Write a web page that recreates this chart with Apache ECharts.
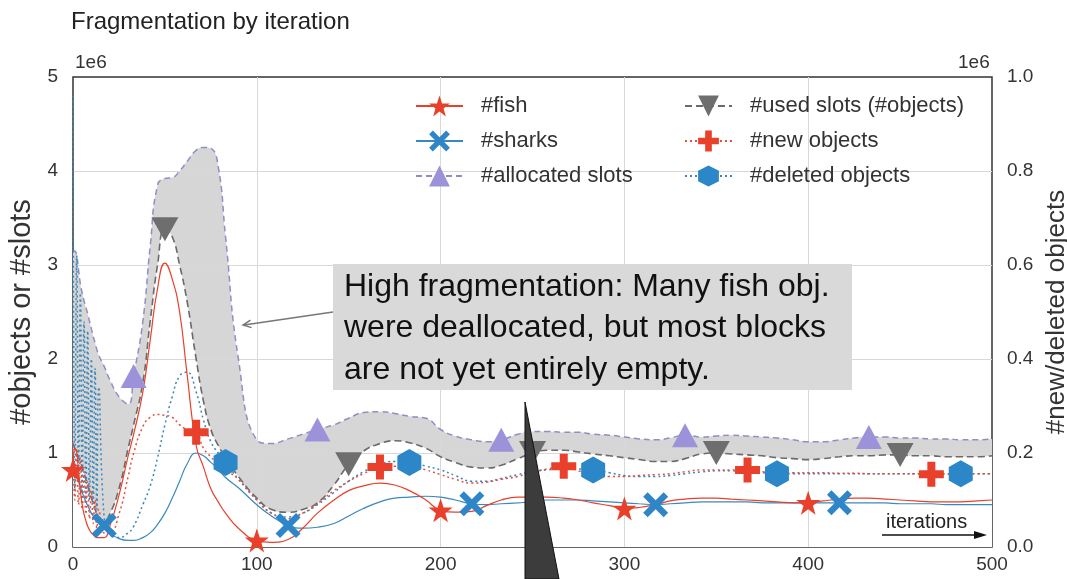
<!DOCTYPE html>
<html>
<head>
<meta charset="utf-8">
<title>Fragmentation by iteration</title>
<script src="https://cdn.jsdelivr.net/npm/echarts@6/dist/echarts.min.js"></script>
<style>
  html, body { margin: 0; padding: 0; background: #fff; }
  #chart { width: 1067px; height: 579px; }
</style>
</head>
<body>
<div id="chart"></div>
<script>
// iterations (x), same grid for every series
const iters = [0, 1, 2, 3, 4, 5, 6, 7, 8, 9, 10, 11, 12, 13, 14,
  17, 20, 25, 30, 33, 38, 42, 46, 50, 54, 58, 62, 67, 71, 75, 79, 83, 90,
  100, 108, 117, 125, 133, 142, 150, 158, 167, 175, 183, 192,
  200, 208, 217, 225, 233, 242, 250, 258, 267, 275, 283, 292,
  300, 308, 317, 325, 333, 342, 350, 358, 367, 375, 383, 392,
  400, 408, 417, 425, 433, 442, 450, 458, 467, 475, 483, 492,
  500];

// left axis (x 1e6)
const fish = [0.82, 1.05, 1.0, 0.8, 0.6, 0.45, 0.35, 0.28, 0.22, 0.18, 0.15, 0.13, 0.11, 0.1, 0.1,
  0.1, 0.22, 0.55, 0.97, 1.2, 1.65, 2.2, 2.75, 3.02, 2.85, 2.5, 1.85, 1.08, 0.85, 0.62, 0.48, 0.36, 0.2,
  0.07, 0.05, 0.08, 0.2, 0.36, 0.5, 0.6, 0.65, 0.68, 0.66, 0.6, 0.5,
  0.39, 0.37, 0.38, 0.44, 0.5, 0.53, 0.53, 0.53, 0.52, 0.5, 0.47, 0.44,
  0.41, 0.42, 0.45, 0.49, 0.51, 0.52, 0.52, 0.51, 0.5, 0.49, 0.48, 0.47,
  0.47, 0.49, 0.51, 0.52, 0.52, 0.51, 0.5, 0.49, 0.48, 0.48, 0.48, 0.49,
  0.5];
const sharks = [0.9, 0.82, 0.76, 0.7, 0.64, 0.58, 0.53, 0.48, 0.44, 0.4, 0.36, 0.33, 0.3, 0.28, 0.26,
  0.23, 0.15, 0.09, 0.07, 0.07, 0.1, 0.15, 0.24, 0.36, 0.52, 0.7, 0.88, 1.0, 0.97, 0.9, 0.83, 0.74, 0.63,
  0.45, 0.33, 0.23, 0.2, 0.21, 0.25, 0.33, 0.41, 0.48, 0.52, 0.53, 0.54,
  0.53, 0.5, 0.46, 0.45, 0.46, 0.47, 0.48, 0.5, 0.5, 0.5, 0.49, 0.48,
  0.47, 0.46, 0.45, 0.46, 0.47, 0.48, 0.48, 0.48, 0.48, 0.47, 0.47, 0.47,
  0.47, 0.47, 0.47, 0.47, 0.47, 0.47, 0.46, 0.46, 0.46, 0.45, 0.45, 0.45,
  0.45];
const allocSlots = [3.15, 3.15, 3.1, 2.95, 2.8, 2.7, 2.62, 2.55, 2.48, 2.4, 2.32, 2.24, 2.17, 2.1, 2.04,
  1.92, 1.78, 1.6, 1.52, 1.82, 2.4, 3.2, 3.85, 3.92, 3.93, 4.0, 4.1, 4.22, 4.25, 4.24, 4.05, 3.3, 2.0,
  1.14, 1.1, 1.15, 1.2, 1.25, 1.3, 1.37, 1.43, 1.44, 1.42, 1.39, 1.37,
  1.25, 1.18, 1.14, 1.12, 1.14, 1.2, 1.23, 1.23, 1.22, 1.22, 1.2, 1.19,
  1.17, 1.15, 1.14, 1.16, 1.19, 1.17, 1.18, 1.19, 1.18, 1.17, 1.16, 1.14,
  1.12, 1.12, 1.14, 1.16, 1.17, 1.17, 1.16, 1.16, 1.15, 1.15, 1.14, 1.14,
  1.15];
const usedSlots = [1.1, 1.05, 1.0, 0.95, 0.9, 0.85, 0.78, 0.72, 0.65, 0.58, 0.52, 0.46, 0.4, 0.35, 0.31,
  0.28, 0.35, 0.62, 1.05, 1.3, 1.75, 2.4, 3.0, 3.38, 3.3, 3.0, 2.62, 2.0, 1.55, 1.25, 1.08, 0.95, 0.75,
  0.52, 0.4, 0.37, 0.4, 0.47, 0.66, 0.88, 1.02, 1.1, 1.13, 1.11, 1.05,
  0.96, 0.9, 0.85, 0.84, 0.87, 0.94, 1.0, 1.03, 1.03, 1.01, 0.99, 0.97,
  0.95, 0.93, 0.91, 0.91, 0.94, 0.99, 1.0, 0.99, 0.98, 0.97, 0.95, 0.94,
  0.93, 0.94, 0.96, 0.97, 0.97, 0.98, 0.98, 0.97, 0.97, 0.96, 0.96, 0.96,
  0.97];

// right axis (x 1e6)
const newObjects = [0.22, 0.1, 0.21, 0.09, 0.19, 0.08, 0.16, 0.07, 0.14, 0.06, 0.12, 0.05, 0.1, 0.04, 0.08,
  0.03, 0.03, 0.07, 0.15, 0.2, 0.256, 0.276, 0.282, 0.28, 0.276, 0.26, 0.25, 0.244, 0.21, 0.192, 0.176, 0.164, 0.144,
  0.1, 0.072, 0.06, 0.072, 0.092, 0.12, 0.14, 0.156, 0.17, 0.172, 0.172, 0.164,
  0.154, 0.144, 0.136, 0.138, 0.144, 0.15, 0.16, 0.166, 0.172, 0.162, 0.154, 0.15,
  0.15, 0.152, 0.154, 0.156, 0.16, 0.164, 0.164, 0.164, 0.164, 0.16, 0.158, 0.158,
  0.158, 0.158, 0.157, 0.157, 0.156, 0.156, 0.156, 0.156, 0.155, 0.155, 0.156, 0.156,
  0.156];
const deletedObjects = [0.96, 0.12, 0.62, 0.14, 0.54, 0.12, 0.48, 0.1, 0.46, 0.1, 0.4, 0.09, 0.38, 0.08, 0.34,
  0.06, 0.03, 0.02, 0.03, 0.044, 0.09, 0.13, 0.19, 0.26, 0.32, 0.364, 0.372, 0.33, 0.27, 0.224, 0.2, 0.18, 0.144,
  0.1, 0.072, 0.064, 0.072, 0.09, 0.116, 0.14, 0.16, 0.176, 0.182, 0.18, 0.172,
  0.164, 0.152, 0.14, 0.14, 0.146, 0.154, 0.16, 0.164, 0.166, 0.166, 0.164, 0.158,
  0.152, 0.15, 0.15, 0.152, 0.156, 0.16, 0.162, 0.162, 0.16, 0.158, 0.156, 0.156,
  0.156, 0.156, 0.156, 0.156, 0.156, 0.156, 0.156, 0.156, 0.156, 0.156, 0.156, 0.156,
  0.156];

const xTicks = [0, 100, 200, 300, 400, 500];
const leftTicks = [0, 1, 2, 3, 4, 5];
const rightTicks = [0, 0.2, 0.4, 0.6, 0.8, 1.0];

// markers every 100 iterations, each series shifted a bit
const markOffset = { fish: 0, sharks: 17, alloc: 33, used: 50, newObj: 67, delObj: 83 };

const STAR = 'path://M50,0L61.8,35.1L98.1,35.1L68.8,56.8L79.4,91.9L50,70.5L20.6,91.9L31.2,56.8L1.9,35.1L38.2,35.1Z';
const XMARK = 'path://M18,0L50,32L82,0L100,18L68,50L100,82L82,100L50,68L18,100L0,82L32,50L0,18Z';
const PLUS = 'path://M34,0H66V34H100V66H66V100H34V66H0V34H34Z';
const HEX = 'path://M50,0L93.3,25L93.3,75L50,100L6.7,75L6.7,25Z';
const TRI_UP = 'path://M50,0L100,86.6L0,86.6Z';
const TRI_DOWN = 'path://M0,0L100,0L50,86.6Z';

const FONT = '"Liberation Sans", Arial, Helvetica, sans-serif';
const GRID_COLOR = '#d8d8d8';

function pts(ys) {
  return iters.map((x, i) => [x, ys[i]]);
}
function markSize(offset, size) {
  return function (v) {
    const x = v[0];
    return (x >= offset && x < 500 && (x - offset) % 100 === 0) ? size : 0;
  };
}

function lineSeries(name, ys, axis, color, markColor, symbol, size, offset, lineType, width) {
  return {
    name: name,
    type: 'line',
    yAxisIndex: axis,
    data: pts(ys),
    smooth: true,
    color: markColor,
    symbol: symbol,
    symbolSize: markSize(offset, size),
    showSymbol: true,
    showAllSymbol: true,
    lineStyle: { color: color, width: width, type: lineType },
    itemStyle: { color: markColor, borderWidth: 0 },
    emphasis: { disabled: true },
    z: 10
  };
}

// grid lines drawn above the gray band (like the reference)
const gridLines = xTicks.slice(1, -1).map(v => ({ xAxis: v }))
  .concat(leftTicks.slice(1, -1).map(v => ({ yAxis: v })));

const chart = echarts.init(document.getElementById('chart'), null, { renderer: 'canvas' });

const option = {
  animation: false,
  backgroundColor: '#fff',
  textStyle: { fontFamily: FONT },
  title: {
    text: 'Fragmentation by iteration',
    left: 71, top: 10, padding: 0,
    textStyle: { fontSize: 24, fontWeight: 'normal', color: '#222', fontFamily: FONT }
  },
  grid: {
    left: 73, right: 75, top: 77, bottom: 32,
    outerBoundsMode: 'none', containLabel: false,
    show: true, borderColor: '#333', borderWidth: 1.5, backgroundColor: 'transparent'
  },
  legend: [
    {
      left: 415, top: 95, padding: 0, orient: 'vertical', z: 20,
      itemWidth: 47, itemHeight: 26, itemGap: 13,
      data: ['#fish', '#sharks', '#allocated slots'],
      textStyle: { fontSize: 22, color: '#333', fontFamily: FONT, padding: [0, 0, 0, 13] }
    },
    {
      left: 684, top: 95, padding: 0, orient: 'vertical', z: 20,
      itemWidth: 47, itemHeight: 26, itemGap: 13,
      data: ['#used slots (#objects)', '#new objects', '#deleted objects'],
      textStyle: { fontSize: 22, color: '#333', fontFamily: FONT, padding: [0, 0, 0, 13] }
    }
  ],
  xAxis: {
    type: 'value', min: xTicks[0], max: xTicks[xTicks.length - 1], interval: 100,
    axisLine: { show: false }, axisTick: { show: false },
    axisLabel: { fontSize: 19, color: '#333', margin: 8, fontFamily: FONT },
    splitLine: { show: false }
  },
  yAxis: [
    {
      type: 'value', min: leftTicks[0], max: leftTicks[leftTicks.length - 1], interval: 1,
      name: '#objects or #slots', nameLocation: 'middle', nameGap: 36, nameRotate: 90,
      nameTextStyle: { fontSize: 29, color: '#333', fontFamily: FONT },
      axisLine: { show: false }, axisTick: { show: false },
      axisLabel: { fontSize: 19, color: '#333', margin: 15, fontFamily: FONT },
      splitLine: { show: false }
    },
    {
      type: 'value', min: rightTicks[0], max: rightTicks[rightTicks.length - 1], interval: 0.2,
      position: 'right',
      name: '#new/deleted objects', nameLocation: 'middle', nameGap: 46, nameRotate: 90,
      nameTextStyle: { fontSize: 26, color: '#333', fontFamily: FONT },
      axisLine: { show: false }, axisTick: { show: false },
      axisLabel: { fontSize: 19, color: '#333', margin: 15, fontFamily: FONT,
        formatter: v => v.toFixed(1) },
      splitLine: { show: false }
    }
  ],
  series: [
    // gray band: allocated area in gray, then used area in white on top of it
    {
      name: 'allocFill', type: 'line', data: pts(allocSlots), smooth: true,
      symbol: 'none', lineStyle: { opacity: 0 }, silent: true, z: 1,
      areaStyle: { color: '#d6d6d6', opacity: 1 }
    },
    {
      name: 'usedFill', type: 'line', data: pts(usedSlots), smooth: true,
      symbol: 'none', lineStyle: { opacity: 0 }, silent: true, z: 1,
      areaStyle: { color: '#ffffff', opacity: 1 },
      markLine: {
        silent: true, symbol: ['none', 'none'], label: { show: false },
        lineStyle: { color: GRID_COLOR, width: 1, type: 'solid' },
        emphasis: { disabled: true },
        data: gridLines
      }
    },
    lineSeries('#allocated slots', allocSlots, 0, '#8d8fc6', '#9c92da', TRI_UP, [26, 24], markOffset.alloc, [6, 4], 1.5),
    lineSeries('#used slots (#objects)', usedSlots, 0, '#6a6a6a', '#6e6e6e', TRI_DOWN, [27, 24], markOffset.used, [7, 4], 1.6),
    lineSeries('#deleted objects', deletedObjects, 1, '#3a86bb', '#2b87c8', HEX, [24, 27], markOffset.delObj, [2, 3], 1.5),
    lineSeries('#new objects', newObjects, 1, '#e0503e', '#e8402a', PLUS, 25, markOffset.newObj, [2, 3], 1.5),
    lineSeries('#sharks', sharks, 0, '#3a88c0', '#2e86c8', XMARK, 25, markOffset.sharks, 'solid', 1.2),
    lineSeries('#fish', fish, 0, '#e8402a', '#e8402a', STAR, 24, markOffset.fish, 'solid', 1.2)
  ],
  graphic: [
    { type: 'text', left: 75, top: 53, style: { text: '1e6', font: '19px ' + FONT, fill: '#333' } },
    { type: 'text', left: 958, top: 53, style: { text: '1e6', font: '19px ' + FONT, fill: '#333' } },
    {
      type: 'rect', z: 50, shape: { x: 333, y: 264, width: 519, height: 126 },
      style: { fill: '#d9d9d9' }
    },
    {
      type: 'text', z: 51, x: 344, y: 266,
      style: {
        text: 'High fragmentation: Many fish obj.\nwere deallocated, but most blocks\nare not yet entirely empty.',
        font: '32px ' + FONT, fill: '#111', lineHeight: 41.5, verticalAlign: 'top'
      }
    },
    {
      type: 'line', z: 50, shape: { x1: 333, y1: 312, x2: 244, y2: 325 },
      style: { stroke: '#777', lineWidth: 1.5 }
    },
    {
      type: 'polyline', z: 50, shape: { points: [[251.6, 327.6], [243, 325], [250.5, 320.1]] },
      style: { stroke: '#777', lineWidth: 1.5, fill: null }
    },
    {
      type: 'polygon', z: 60, shape: { points: [[525, 402], [525, 579], [559, 579]] },
      style: { fill: '#3c3c3c', stroke: '#111', lineWidth: 1 }
    },
    { type: 'text', z: 50, left: 886, top: 512, style: { text: 'iterations', font: '20px ' + FONT, fill: '#222' } },
    {
      type: 'line', z: 50, shape: { x1: 882, y1: 535, x2: 978, y2: 535 },
      style: { stroke: '#111', lineWidth: 1.3 }
    },
    {
      type: 'polygon', z: 50, shape: { points: [[987, 535], [974, 531], [974, 539]] },
      style: { fill: '#111' }
    }
  ]
};

chart.setOption(option);
</script>
</body>
</html>
